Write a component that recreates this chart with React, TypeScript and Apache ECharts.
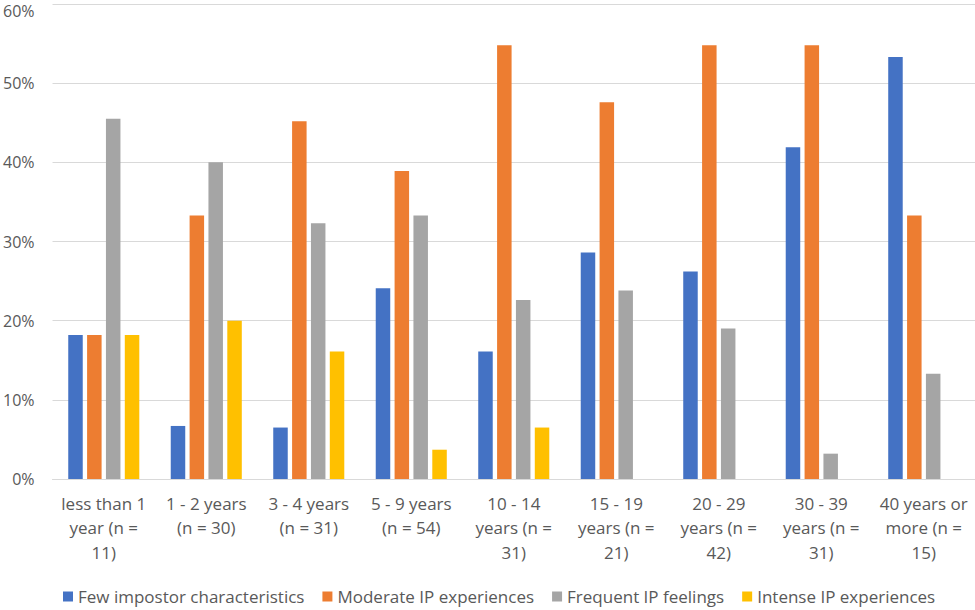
import React, { useEffect, useRef } from "react";
import * as echarts from "echarts";

const categories = [
  "less than 1 year (n = 11)",
  "1 - 2 years (n = 30)",
  "3 - 4 years (n = 31)",
  "5 - 9 years (n = 54)",
  "10 - 14 years (n = 31)",
  "15 - 19 years (n = 21)",
  "20 - 29 years (n = 42)",
  "30 - 39 years (n = 31)",
  "40 years or more (n = 15)",
];
const categoryLabels = [
  "less than 1\nyear (n =\n11)",
  "1 - 2 years\n(n = 30)",
  "3 - 4 years\n(n = 31)",
  "5 - 9 years\n(n = 54)",
  "10 - 14\nyears (n =\n31)",
  "15 - 19\nyears (n =\n21)",
  "20 - 29\nyears (n =\n42)",
  "30 - 39\nyears (n =\n31)",
  "40 years or\nmore (n =\n15)",
];
const seriesNames = [
  "Few impostor characteristics",
  "Moderate IP experiences",
  "Frequent IP feelings",
  "Intense IP experiences",
];
const fewImpostor = [18.2, 6.7, 6.5, 24.1, 16.1, 28.6, 26.2, 41.9, 53.3];
const moderateIP = [18.2, 33.3, 45.2, 38.9, 54.8, 47.6, 54.8, 54.8, 33.3];
const frequentIP = [45.5, 40.0, 32.3, 33.3, 22.6, 23.8, 19.0, 3.2, 13.3];
const intenseIP = [18.2, 20.0, 16.1, 3.7, 6.5, 0, 0, 0, 0];
const yTicks = [0, 10, 20, 30, 40, 50, 60];

const colors = ["#4472C4", "#ED7D31", "#A5A5A5", "#FFC000"];
const FONT = "'Open Sans', Lato, sans-serif";

export default function App() {
  const ref = useRef<HTMLDivElement>(null);
  useEffect(() => {
    if (!ref.current) return;
    const chart = echarts.init(ref.current, null, { renderer: "svg" });
    const data = [fewImpostor, moderateIP, frequentIP, intenseIP];
    const yMax = yTicks[yTicks.length - 1];
    chart.setOption({
      animation: false,
      color: colors,
      textStyle: { fontFamily: FONT },
      grid: { left: 51, right: 0, top: 4, bottom: 131, containLabel: false },
      legend: {
        bottom: 0,
        left: 58,
        itemWidth: 10,
        itemHeight: 10,
        itemGap: 18,
        icon: "rect",
        textStyle: { color: "#595959", fontSize: 17, fontFamily: FONT },
        data: seriesNames,
      },
      xAxis: {
        type: "category",
        data: categories,
        axisLine: { lineStyle: { color: "#d9d9d9", width: 1 } },
        axisTick: { show: false },
        axisLabel: {
          color: "#595959",
          fontSize: 17,
          lineHeight: 24.5,
          margin: 12,
          interval: 0,
          formatter: (_v: string, i: number) => categoryLabels[i],
        },
      },
      yAxis: {
        type: "value",
        min: yTicks[0],
        max: yMax,
        interval: 10,
        axisLabel: {
          color: "#595959",
          fontSize: 16,
          margin: 18,
          formatter: (v: number) => (v === yMax ? "{top|" + v + "%}" : v + "%"),
          rich: {
            top: {
              color: "#595959",
              fontSize: 16,
              fontFamily: FONT,
              padding: [14, 0, 0, 0],
            },
          },
        },
        splitLine: { lineStyle: { color: "#d9d9d9", width: 1 } },
        axisLine: { show: false },
        axisTick: { show: false },
      },
      series: seriesNames.map((name, i) => ({
        name,
        type: "bar",
        data: data[i],
        barWidth: 14.5,
        barGap: "30%",
        itemStyle: { color: colors[i] },
      })),
    });
    return () => chart.dispose();
  }, []);
  return (
    <div
      ref={ref}
      style={{ position: "fixed", left: 0, top: 0, width: 975, height: 610, background: "#fff" }}
    />
  );
}
